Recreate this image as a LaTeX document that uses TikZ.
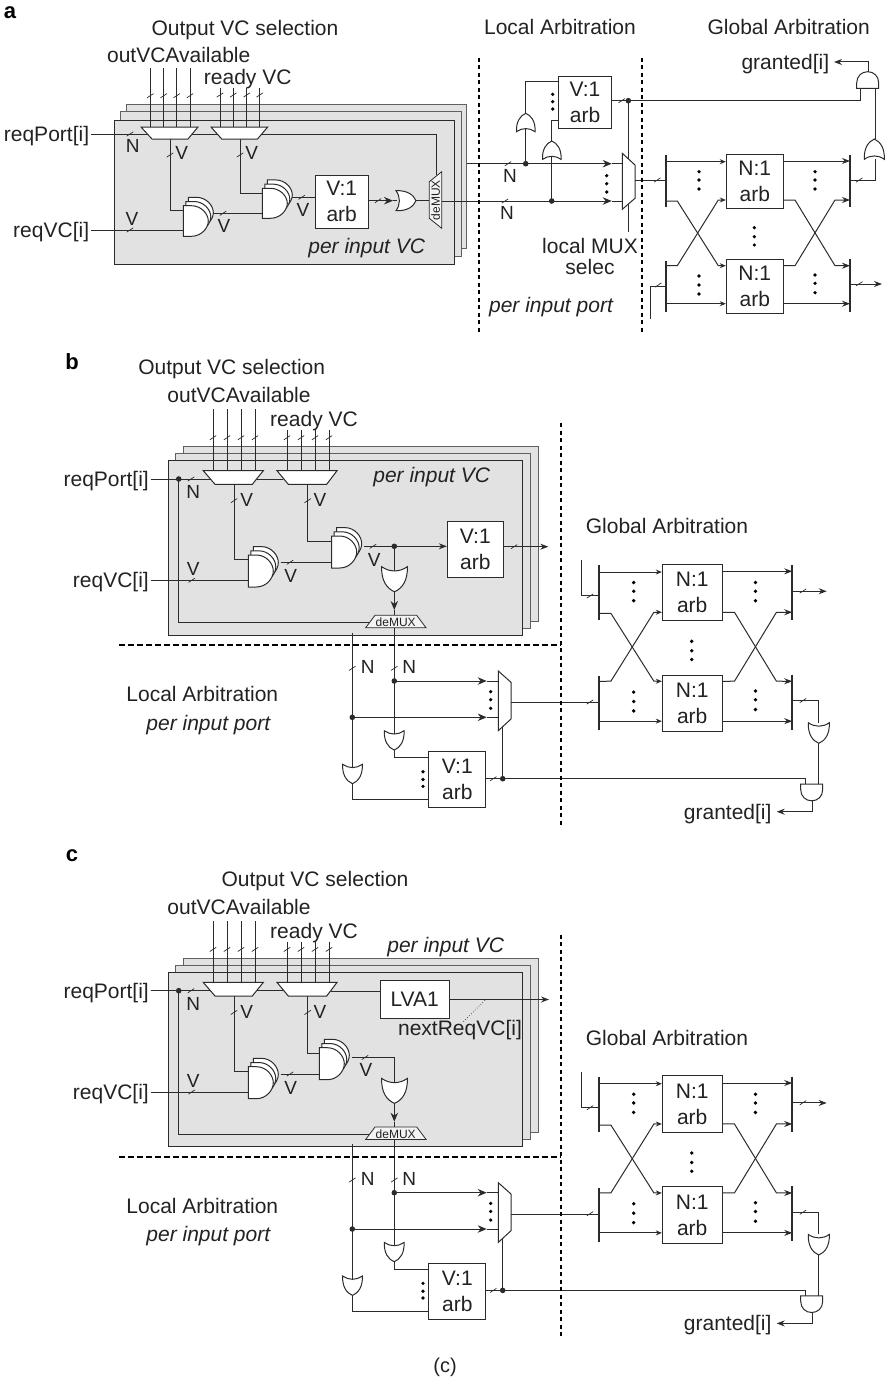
\documentclass[tikz,border=0pt]{standalone}
\usepackage{fontspec}
\setmainfont{Liberation Sans}
\usetikzlibrary{arrows.meta,calc}
\definecolor{ink}{HTML}{2B2B2B}
\definecolor{panel}{HTML}{E2E2E2}
\definecolor{txt}{HTML}{222222}
\tikzset{
  wire/.style={draw=ink,line width=1pt,line cap=butt,line join=miter},
  tk/.style={draw=ink,line width=.7pt},
  arr/.style={wire,-{Stealth[length=8pt,width=6pt]}},
  arrs/.style={wire,-{Stealth[length=6pt,width=5pt]}},
  arrbig/.style={wire,-{Stealth[length=9pt,width=7.5pt]}},
  gatebox/.style={draw=ink,line width=1pt,fill=white},
  backsheet/.style={draw=ink!75,line width=1pt,fill=panel},
  frontsheet/.style={draw=ink,line width=1pt,fill=panel},
  lbl/.style={inner sep=0pt,text=txt,font=\fontsize{21}{26}\selectfont,text height=15pt,text depth=0pt},
  sm/.style={inner sep=0pt,text=txt,font=\fontsize{19}{23}\selectfont,text height=13.6pt,text depth=0pt},
  itl/.style={lbl,font=\fontsize{21}{26}\selectfont\itshape},
  letter/.style={inner sep=0pt,text=black,font=\fontsize{22}{26}\selectfont\bfseries},
  arbbox/.style={draw=ink,line width=1pt,fill=white,inner sep=0pt,align=center,text=txt,font=\fontsize{21}{26}\selectfont},
  demuxt/.style={inner sep=0pt,text=txt,font=\fontsize{12}{12}\selectfont},
  dashv/.style={draw=black,line width=1.7pt,dash pattern=on 4pt off 3.5pt},
  dashh/.style={draw=black,line width=1.7pt,dash pattern=on 6pt off 3pt},
}
% tick across a bus
\newcommand\tkm[2]{\draw[tk] (#1,#2) ++(-3.2,2.1) -- ++(6.4,-4.2);}
\newcommand\jdot[1]{\fill[ink] (#1) circle (2.8pt);}
\newcommand\vdts[4]{\foreach \yy in {#2,#3,#4} {\fill[black] (#1,\yy) circle (1.8pt);}}
% OR gate: centre, rotation, width, length
\newcommand\orgate[5]{\begin{scope}[shift={(#1,#2)},rotate=#3,xscale=#4/20,yscale=#5/20]
  \draw[gatebox] (-10,10) .. controls (-10.5,-1) and (-6,-7.5) .. (0,-10) .. controls (6,-7.5) and (10.5,-1) .. (10,10) .. controls (4,5.5) and (-4,5.5) .. (-10,10) -- cycle;
\end{scope}}
% AND gate, base towards +y at rotation 0
\newcommand\andgate[3]{\begin{scope}[shift={(#1,#2)},rotate=#3]
  \draw[gatebox] (-11,8.3) -- (11,8.3) -- (11,3) .. controls (11,-4) and (6,-8.3) .. (0,-8.3) .. controls (-6,-8.3) and (-11,-4) .. (-11,3) -- cycle;
\end{scope}}
% three stacked AND gates: left, front top, height
\newcommand\andstack[3]{\foreach \ss in {2,1,0} {\begin{scope}[shift={(#1+2.5*\ss,#2-4.2*\ss)},yscale=#3/30]
  \draw[gatebox] (0,0) -- (8,0) .. controls (18,0) and (25,8) .. (25,15) .. controls (25,22) and (18,30) .. (8,30) -- (0,30) -- cycle;
\end{scope}}}
% global arbitration block: prefix, origin, scale
\newcommand\globarb[4]{\begin{scope}[shift={(#2,#3)},scale=#4]
  \node[arbbox,minimum width=57pt*#4,minimum height=54pt*#4] (#1top) at (88.8,26.3) {N:1\\arb};
  \node[arbbox,minimum width=57pt*#4,minimum height=54pt*#4] (#1bot) at (88.8,131.8) {N:1\\arb};
  \coordinate (#1lt) at (0,0); \coordinate (#1lte) at (0,52.3);
  \coordinate (#1lb) at (0,105.7); \coordinate (#1lbe) at (0,157.3);
  \coordinate (#1rt) at (184,0); \coordinate (#1rte) at (184,52.3);
  \coordinate (#1rb) at (184,104.3); \coordinate (#1rbe) at (184,156.7);
  \coordinate (#1it) at (0,25); \coordinate (#1it2) at (0,29.5); \coordinate (#1ib) at (0,131);
  \coordinate (#1ot) at (184,25); \coordinate (#1ob) at (184,129);
  \coordinate (#1a1) at (0,6.7); \coordinate (#1a2) at (0,46); \coordinate (#1a3) at (0,110.7); \coordinate (#1a4) at (0,148.7);
  \coordinate (#1b1) at (184,6); \coordinate (#1b2) at (184,45); \coordinate (#1b3) at (184,110.7); \coordinate (#1b4) at (184,148.7);
  \draw[arrs] (#1a1) -- (#1a1 -| #1top.west);
  \draw[arrs] (#1a2) -- (11.3,46) -- (52.3,110.7) -- (#1a3 -| #1bot.west);
  \draw[arrs] (#1a3) -- (11.3,110.7) -- (52.3,45) -- (#1b2 -| #1top.west);
  \draw[arrs] (#1a4) -- (#1a4 -| #1bot.west);
  \draw[arr] (#1b1 -| #1top.east) -- (#1b1);
  \draw[arr] (#1b2 -| #1top.east) -- (129,45) -- (169,110.7) -- (#1b3);
  \draw[arr] (#1b3 -| #1bot.east) -- (129,110.7) -- (169,45) -- (#1b2);
  \draw[arr] (#1b4 -| #1bot.east) -- (#1b4);
  \draw[wire,line width=1.5pt] (#1lt) -- (#1lte);
  \draw[wire,line width=1.5pt] (#1lb) -- (#1lbe);
  \draw[wire,line width=1.5pt] (#1rt) -- (#1rte);
  \draw[wire,line width=1.5pt] (#1rb) -- (#1rbe);
  \vdts{33}{16.7}{25}{34}
  \vdts{33}{121}{130}{139}
  \vdts{149}{16.7}{25}{34}
  \vdts{149}{120}{128.3}{137.7}
  \vdts{88.3}{72.7}{81.7}{90}
\end{scope}}
% shared part of panels b and c: prefix, x of second gate stack
\newcommand\vcpanel[2]{%
  \draw[backsheet] (183.7,446.3) rectangle (538.3,621);
  \draw[backsheet] (175.7,453.3) rectangle (530.3,628);
  \draw[frontsheet] (168.3,460.3) rectangle (522.3,635);
  \foreach \xx in {213,227,241,255} {\coordinate (#1t\xx) at (\xx,409.3); \draw[wire] (#1t\xx) -- (\xx,470.7); \tkm{\xx}{437.7}}
  \foreach \xx in {287,301,315,329} {\coordinate (#1t\xx) at (\xx,430); \draw[wire] (#1t\xx) -- (\xx,470.7); \tkm{\xx}{437.7}}
  \node[lbl,anchor=east,inner xsep=1.7pt] (#1rp) at (150.7,479) {reqPort[i]};
  \node[lbl,anchor=east,inner xsep=1.7pt] (#1rv) at (150.7,580.3) {reqVC[i]};
  \coordinate (#1m1b) at (234,484.3); \coordinate (#1m2b) at (307.7,484.3);
  \coordinate (#1m2w) at (283,479); \coordinate (#1j0) at (178.7,479);
  \coordinate (#1dmxw) at (370,622.7); \coordinate (#1g1a) at (248.3,559.3); \coordinate (#1g1b) at (248.3,580.3);
  \coordinate (#1g2a) at (#2,541.3); \coordinate (#1g1o) at (280.7,562.3); \coordinate (#1g2b) at (#2,562.3);
  \draw[wire] (#1rp.east) -- (#1m2w);
  \draw[wire] (#1j0) |- (#1dmxw);
  \draw[wire] (#1m1b) |- (#1g1a);
  \draw[wire] (#1m2b) |- (#1g2a);
  \draw[wire] (#1rv.east) -- (#1g1b);
  \draw[wire] (#1g1o) -- (#1g2b);
  \tkm{191}{479}\tkm{234}{500.7}\tkm{307.7}{500.7}\tkm{191.7}{580.3}\tkm{290}{562.3}
  \draw[gatebox] (203.3,470.7) -- (263.3,470.7) -- (252.3,484.3) -- (215,484.3) -- cycle;
  \draw[gatebox] (277,470.7) -- (337,470.7) -- (326.7,484.3) -- (288.3,484.3) -- cycle;
  \andstack{248.3}{555}{32}
  \andstack{#2}{536}{32}
  \jdot{#1j0}
  % OR into demux
  \coordinate (#1orout) at (394.3,591.7); \coordinate (#1dmxt) at (394.3,615.3); \coordinate (#1dmxarr) at (394.3,610);
  \draw[arrbig] (#1orout) -- (#1dmxarr);
  \draw[wire] (#1dmxarr) -- (#1dmxt);
  \orgate{394.5}{579.2}{180}{25.6}{25}
  % buses below demux
  \coordinate (#1bus1) at (352.3,632.7); \coordinate (#1bus2) at (394.3,627.7);
  \coordinate (#1j1) at (394.3,681); \coordinate (#1j2) at (352.3,717.3);
  \coordinate (#1or1) at (394.3,735); \coordinate (#1or2) at (352.3,768);
  \node[arbbox,minimum width=56.7pt,minimum height=55.6pt] (#1v2) at (457.3,779.5) {V:1\\arb};
  \coordinate (#1v2a) at (429,757.3); \coordinate (#1v2b) at (429,799.3);
  \coordinate (#1v2o) at (485.7,778.7);
  \draw[wire] (#1bus2) -- (#1or1) |- (#1v2a);
  \draw[wire] (#1bus1) -- (#1or2) |- (#1v2b);
  \coordinate (#1a1) at (486.7,681); \coordinate (#1a2) at (486.7,717.3);
  \coordinate (#1a1e) at (498.3,681); \coordinate (#1a2e) at (498.3,717.3);
  \draw[arrbig] (#1j1) -- (#1a1); \draw[wire] (#1a1) -- (#1a1e);
  \draw[arrbig] (#1j2) -- (#1a2); \draw[wire] (#1a2) -- (#1a2e);
  \coordinate (#1j3) at (502.7,778.7); \coordinate (#1mbot) at (502.7,724);
  \draw[wire] (#1j3) -- (#1mbot);
  \draw[gatebox] (498.3,671) -- (511,682.3) -- (511,719) -- (498.3,730.7) -- cycle;
  \orgate{394.2}{740.4}{180}{19.7}{19.3}
  \orgate{352.5}{774}{180}{19.7}{19.4}
  \tkm{352.3}{668.3}\tkm{394.3}{668.3}\tkm{493.3}{778.7}
  \jdot{#1j1}\jdot{#1j2}\jdot{#1j3}
  \vdts{490.7}{691.7}{699.7}{708.3}
  \vdts{423}{771.7}{779.5}{786.3}
  % global arbitration
  \globarb{#1g}{599}{565}{1.05}
  \coordinate (#1in) at (581.7,560);
  \draw[wire] (#1in) |- (#1git2);
  \coordinate (#1mr) at (511,700);
  \draw[wire] (#1gib -| #1mr) -- (#1gib);
  \coordinate (#1end) at (826.7,590); \draw[arr] (#1got) -- (#1got -| #1end);
  \coordinate (#1orin) at (818.3,722.7); \coordinate (#1orb) at (818.3,743);
  \coordinate (#1and1) at (818.3,784); \coordinate (#1and2) at (805,784); \coordinate (#1ando) at (812.3,801);
  \draw[wire] (#1gob) -| (#1orin);
  \draw[wire] (#1orb) -- (#1and1);
  \draw[wire] (#1v2o) -| (#1and2);
  \node[lbl,anchor=east,inner xsep=5pt] (#1gr) at (776.7,811.7) {granted[i]};
  \draw[arr] (#1ando) |- (#1gr.east);
  \orgate{818.8}{733}{180}{21}{20.6}
  \andgate{811.7}{792.5}{180}
  \tkm{590}{596}\tkm{590}{702}\tkm{803}{591}\tkm{803}{700.5}
  % demux
  \draw[gatebox,fill=panel!40!white,line width=.8pt] (375,615.3) -- (416.7,615.3) -- (426,627.7) -- (365.7,627.7) -- cycle;
  \node[demuxt] (#1dmx) at (395.7,622) {deMUX};
  % labels
  \node[lbl] (#1ov) at (239,395) {outVCAvailable};
  \node[lbl] (#1rd) at (314,419.3) {ready VC};
  \node[sm] (#1n1) at (193.3,491.7) {N};
  \node[sm] (#1v1) at (246.7,500) {V};
  \node[sm] (#1v2l) at (320,500) {V};
  \node[sm] (#1v3) at (193.3,569) {V};
  \node[sm] (#1v4) at (290.7,575.7) {V};
  \node[sm] (#1n2) at (367.7,666.7) {N};
  \node[sm] (#1n3) at (409.3,666.7) {N};
  \node[lbl] (#1la) at (202.3,694.3) {Local Arbitration};
  \node[itl] (#1pp) at (208.3,722.7) {per input port};
  \node[lbl] (#1ga) at (667,526) {Global Arbitration};
  \draw[dashv] (561,423) -- (561,826);
  \draw[dashh] (119.3,645) -- (561,645);
}
\begin{document}
\begin{tikzpicture}[x=1pt,y=-1pt]
\useasboundingbox (0,0) rectangle (885,1381);
\node[letter] (la) at (10,13) {a};
\node[letter] (lb) at (72,362) {b};
\node[letter] (lc) at (72,856) {c};
%%%%% PANEL A
\draw[backsheet] (126,104) rectangle (466,248);
\draw[backsheet] (120.5,111) rectangle (461,256);
\draw[frontsheet] (114.5,120) rectangle (454,264.5);
\foreach \xx in {150.3,163.7,176.7,190} {\draw[wire] (\xx,68) -- (\xx,127); \tkm{\xx}{95.7}}
\foreach \xx in {220,233.3,246.7,259.7} {\draw[wire] (\xx,88) -- (\xx,127); \tkm{\xx}{95}}
\node[lbl,anchor=east,inner xsep=1.7pt] (arp) at (91,134) {reqPort[i]};
\node[lbl,anchor=east,inner xsep=1.7pt] (arv) at (91,230) {reqVC[i]};
\coordinate (admxt) at (436,175);
\draw[wire] (arp.east) -| (admxt);
\coordinate (am1b) at (170,139); \coordinate (am2b) at (240,139);
\coordinate (ag1a) at (183.3,210.3); \coordinate (ag2a) at (262.3,193);
\coordinate (ag1b) at (183.3,230); \coordinate (ag1o) at (213,213.3); \coordinate (ag2b) at (262.3,213.3);
\draw[wire] (am1b) |- (ag1a);
\draw[wire] (am2b) |- (ag2a);
\draw[wire] (arv.east) -- (ag1b);
\draw[wire] (ag1o) -- (ag2b);
\tkm{130}{134}\tkm{170}{155}\tkm{240}{155}\tkm{130}{230}\tkm{223}{213.3}\tkm{301.7}{197.3}
\draw[gatebox] (141,127) -- (198,127) -- (188,139) -- (152,139) -- cycle;
\draw[gatebox] (211,127) -- (267.7,127) -- (257.5,139) -- (221.7,139) -- cycle;
\andstack{183.3}{205.7}{30.6}
\andstack{262.3}{188.3}{30}
\node[arbbox,minimum width=53.4pt,minimum height=53pt] (av1) at (341.7,201.8) {V:1\\arb};
\coordinate (ag2o) at (292,197.3);
\draw[wire] (ag2o) -- (ag2o -| av1.west);
\coordinate (aarr) at (393,200.7); \coordinate (aor) at (396.7,200.7);
\coordinate (av1o) at (368.4,200.7);
\draw[arrbig] (av1o) -- (aarr); \draw[wire] (aarr) -- (aor);
\coordinate (aoro) at (416,200.7); \coordinate (admxi) at (429.3,200.7);
\draw[wire] (aoro) -- (admxi);
\orgate{406}{200.7}{-90}{20}{20}
\tkm{378}{200.7}
\draw[gatebox,fill=panel!40!white,line width=.8pt] (429.3,181.7) -- (441.7,171.7) -- (441.7,228.3) -- (429.3,218.3) -- cycle;
\node[demuxt,rotate=90] (admx) at (435.5,200) {deMUX};
% local arbitration
\coordinate (al1) at (466.7,163.7); \coordinate (al2) at (441.7,201);
\coordinate (aj1) at (525.7,163.7); \coordinate (aj2) at (551.7,201);
\coordinate (at1) at (611.7,163.7); \coordinate (at2) at (611.7,201);
\coordinate (ame1) at (622.3,163.7); \coordinate (ame2) at (622.3,201);
\draw[arrbig] (al1) -- (at1); \draw[wire] (at1) -- (ame1);
\draw[arrbig] (al2) -- (at2); \draw[wire] (at2) -- (ame2);
\node[arbbox,minimum width=53.4pt,minimum height=52.4pt] (av2) at (585,102.5) {V:1\\arb};
\coordinate (avi1) at (558.3,81); \coordinate (avi2) at (558.3,120.7);
\draw[wire] (aj1) |- (avi1);
\draw[wire] (aj2) |- (avi2);
\coordinate (av2o) at (611.7,100.7); \coordinate (aj3) at (628.3,100.7);
\coordinate (asel) at (628.3,231.7); \coordinate (aa1) at (860.7,88);
\draw[wire] (av2o) -| (aa1);
\draw[wire] (aj3) -- (asel);
\draw[gatebox] (622.3,153.3) -- (635,165) -- (635,198.3) -- (622.3,209.3) -- cycle;
\orgate{525.8}{122.5}{0}{18.6}{18.4}
\orgate{551.8}{150.2}{0}{18.6}{18.4}
\tkm{508}{163.7}\tkm{505}{201}\tkm{621.7}{100.7}\tkm{657.3}{180}
\jdot{aj1}\jdot{aj2}\jdot{aj3}
\vdts{606.7}{175.7}{183.7}{192}
\vdts{552.7}{94.3}{101.7}{109}
% global arbitration
\globarb{agl}{666}{155}{1}
\coordinate (amr) at (635,180);
\draw[wire] (amr) -- (aglit);
\coordinate (ain) at (650.7,319);
\draw[wire] (ain) |- (aglib);
\coordinate (aend) at (882,283.7);
\draw[arr] (aglob) -- (aglob -| aend);
\coordinate (aorc) at (875,159); \coordinate (aorta) at (875,139); \coordinate (aan) at (875,88);
\draw[wire] (aglot) -| (aorc);
\draw[wire] (aorta) -- (aan);
\node[lbl,anchor=east,inner xsep=4.7pt] (agr) at (834,62) {granted[i]};
\coordinate (aao) at (868.3,71.7);
\draw[arr] (aao) |- (agr.east);
\orgate{874.3}{149.2}{0}{20}{20.3}
\andgate{867.7}{80}{0}
\tkm{859.3}{180}\tkm{859.3}{283.7}\tkm{658.3}{285}
\node[lbl] (aos) at (245,28) {Output VC selection};
\node[lbl] (aov) at (178.7,55) {outVCAvailable};
\node[lbl] (ard) at (247.7,77) {ready VC};
\node[lbl] (ala) at (560,27.3) {Local Arbitration};
\node[lbl] (aga) at (788.7,27.3) {Global Arbitration};
\node[sm] (an1) at (132.7,145.7) {N};
\node[sm] (av3) at (181.7,153) {V};
\node[sm] (av4) at (251.7,153) {V};
\node[sm] (av5) at (132,219) {V};
\node[sm] (av6) at (224,225.7) {V};
\node[sm] (av7) at (303,210) {V};
\node[sm] (an2) at (510,175.7) {N};
\node[sm] (an3) at (507,212.7) {N};
\node[itl] (api) at (366.7,246) {per input VC};
\node[lbl] (amx) at (590,246) {local MUX};
\node[lbl] (asl) at (590,266.7) {selec};
\node[itl] (app) at (551,305.3) {per input port};
\draw[dashv] (479.3,57.7) -- (479.3,333);
\draw[dashv] (641.7,57.7) -- (641.7,333);
%%%%% PANEL B
\vcpanel{b}{331.7}
\node[arbbox,minimum width=56pt,minimum height=56pt] (bv1) at (475.3,549.3) {V:1\\arb};
\coordinate (bg2o) at (364,546.3); \coordinate (bj) at (394.3,546.3); \coordinate (bori) at (394.3,571);
\draw[arr] (bg2o) -- (bg2o -| bv1.west);
\draw[wire] (bj) -- (bori);
\jdot{bj}
\coordinate (bv1o) at (503.3,546.7); \coordinate (bv1e) at (548.3,546.7);
\draw[arr] (bv1o) -- (bv1e);
\tkm{373}{546.3}\tkm{514}{546.7}
\node[lbl] (bos) at (231.7,366.7) {Output VC selection};
\node[itl] (bpi) at (431.7,475) {per input VC};
\node[sm] (bv5) at (374.3,560) {V};
%%%%% PANEL C
\begin{scope}[shift={(0,511.7)}]
\vcpanel{c}{319.3}
\node[arbbox,minimum width=69.3pt,minimum height=38.4pt] (clva) at (414.7,487.8) {LVA1};
\coordinate (cm2e) at (330.7,479.3);
\draw[wire] (cm2e) -- (cm2e -| clva.west);
\coordinate (cg2o) at (351.7,545.7); \coordinate (cori) at (394.3,571);
\draw[wire] (cg2o) -| (cori);
\coordinate (clo) at (449.3,487.8); \coordinate (clend) at (549,487.8);
\draw[arr] (clo) -- (clend);
\coordinate (cdot1) at (485,488.5);
\node[lbl] (cnr) at (460,516.6) {nextReqVC[i]};
\coordinate (cdot2) at (463.3,510);
\draw[draw=ink,line width=.7pt,dotted] (cdot1) -- (cdot2);
\tkm{365}{545.7}
\node[lbl] (cos) at (315,367.3) {Output VC selection};
\node[itl] (cpi) at (445.7,433.3) {per input VC};
\node[sm] (cv5) at (366,558.3) {V};
\end{scope}
\node[inner sep=0pt,text=txt,font=\fontsize{20}{24}\selectfont] (cap) at (445,1367) {(c)};
\end{tikzpicture}
\end{document}
